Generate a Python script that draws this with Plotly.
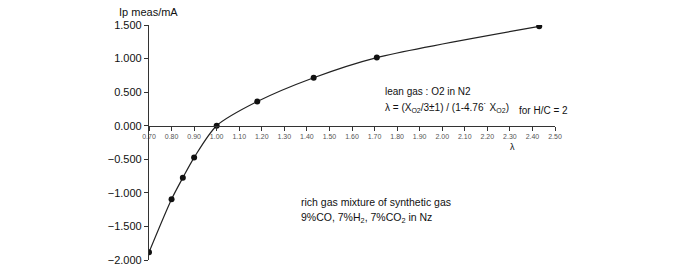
import plotly.graph_objects as go

lam = [0.70, 0.80, 0.85, 0.90, 1.00, 1.18, 1.43, 1.71, 2.43]
ip = [-1.885, -1.095, -0.775, -0.475, 0.0, 0.36, 0.715, 1.015, 1.48]
xticks = [0.70 + 0.1 * i for i in range(19)]
xticklabels = ["%.2f" % v for v in xticks]
yticks = [1.5, 1.0, 0.5, 0.0, -0.5, -1.0, -1.5, -2.0]

FONT = "Liberation Sans, Arial, Helvetica, sans-serif"

fig = go.Figure()
fig.add_trace(go.Scatter(
    x=lam, y=ip, mode="lines+markers",
    line=dict(color="#222", width=1.2, shape="spline", smoothing=0.8),
    marker=dict(color="#111", size=6),
    showlegend=False, hoverinfo="skip"))

fig.update_layout(
    width=700, height=277,
    margin=dict(l=149, r=145, t=25, b=11),
    paper_bgcolor="white", plot_bgcolor="white",
    font=dict(family=FONT, color="#111"),
    xaxis=dict(range=[0.70, 2.50], tickvals=xticks, ticktext=xticklabels,
               showgrid=False, zeroline=False, showline=True, linecolor="#333",
               linewidth=1, ticks="outside", ticklen=4, tickcolor="#333",
               tickfont=dict(size=7, color="#555", family=FONT),
               anchor="free", position=2.0 / 3.5),
    yaxis=dict(range=[-2.0, 1.5], tickvals=yticks, tickformat=".3f",
               showgrid=False, zeroline=False, showline=True, linecolor="#333",
               linewidth=1.2, ticks="outside", ticklen=4, tickcolor="#333",
               tickfont=dict(size=11, color="#111", family=FONT)),
)

def ann(x, y, text, size=10, xanchor="left", ref="data"):
    xr, yr = ("x", "y") if ref == "data" else ("paper", "paper")
    fig.add_annotation(x=x, y=y, xref=xr, yref=yr, text=text, showarrow=False,
                       xanchor=xanchor, yanchor="middle",
                       font=dict(size=size, color="#111", family=FONT))

ann(-0.079, 1.054, "Ip meas/mA", size=11, ref="paper")
ann(1.738, 0.51, "lean gas : O2 in N2")
ann(1.738, 0.265, "λ = (X<sub>O2</sub>/3±1) / (1-4.76˙ X<sub>O2</sub>)")
ann(2.33, 0.23, "for H/C = 2")
ann(1.366, -1.13, "rich gas mixture of synthetic gas", size=10.5)
ann(1.366, -1.37, "9%CO, 7%H<sub>2</sub>, 7%CO<sub>2</sub> in Nz", size=10.5)
ann(2.313, -0.32, "λ", size=9, xanchor="center")

fig.write_html("out.html")
